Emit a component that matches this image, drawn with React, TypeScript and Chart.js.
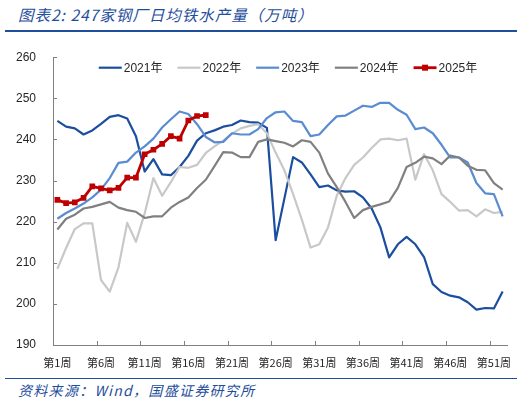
import React, { useEffect, useRef } from 'react';
import { Chart, registerables } from 'chart.js';

Chart.register(...registerables);

// ---- data ----
const weeks: string[] = [
  '第1周','第2周','第3周','第4周','第5周','第6周','第7周','第8周','第9周','第10周',
  '第11周','第12周','第13周','第14周','第15周','第16周','第17周','第18周','第19周','第20周',
  '第21周','第22周','第23周','第24周','第25周','第26周','第27周','第28周','第29周','第30周',
  '第31周','第32周','第33周','第34周','第35周','第36周','第37周','第38周','第39周','第40周',
  '第41周','第42周','第43周','第44周','第45周','第46周','第47周','第48周','第49周','第50周',
  '第51周','第52周',
];

const seriesNames = ['2021年', '2022年', '2023年', '2024年', '2025年'];

const y2021 = [
  244.5, 243.1, 242.7, 241.2, 242.2, 243.8, 245.5, 245.9, 245.1, 240.8,
  232.2, 235.2, 231.5, 231.3, 233.3, 236.0, 239.7, 241.5, 242.2, 243.1,
  243.5, 244.6, 244.2, 244.1, 242.8, 215.5, 225.6, 235.7, 234.4, 231.5,
  228.4, 228.8, 227.6, 227.3, 227.4, 225.9, 223.2, 218.6, 211.3, 214.5,
  216.3, 214.5, 211.4, 204.8, 202.9, 202.0, 201.6, 200.4, 198.6, 199.0,
  198.9, 203.0,
];
const y2022 = [
  208.5, 213.6, 218.2, 219.6, 219.6, 205.8, 203.0, 208.9, 219.7, 215.1,
  222.0, 230.6, 226.3, 229.6, 233.3, 233.1, 233.8, 236.7, 238.3, 239.7,
  241.4, 242.7, 243.3, 243.7, 241.5, 236.8, 232.5, 226.7, 220.5, 213.7,
  214.5, 218.6, 226.3, 230.6, 233.8, 235.6, 237.9, 240.0, 240.2, 239.8,
  240.2, 230.2, 236.4, 232.5, 226.7, 224.8, 222.7, 222.8, 221.3, 223.0,
  222.1, 222.4,
];
const y2023 = [
  220.7, 222.1, 223.2, 224.4, 225.9, 227.8, 230.6, 234.3, 234.6, 236.8,
  238.3, 240.2, 242.9, 244.9, 246.8, 246.2, 243.7, 240.6, 239.3, 239.4,
  241.5, 241.2, 241.2, 242.5, 245.2, 246.6, 246.8, 244.5, 244.2, 240.8,
  241.2, 243.5, 245.6, 245.8, 247.0, 248.2, 247.9, 248.9, 248.9, 247.2,
  246.0, 242.5, 242.9, 241.5, 238.7, 235.6, 235.6, 234.4, 229.4, 226.9,
  226.7, 221.3,
];
const y2024 = [
  218.1, 220.7, 221.7, 223.2, 223.6, 224.2, 224.8, 223.4, 222.8, 222.4,
  220.9, 221.3, 221.3, 223.4, 224.8, 225.9, 228.2, 230.2, 233.5, 236.9,
  236.8, 235.7, 235.7, 239.4, 240.0, 239.6, 239.2, 238.3, 239.8, 239.4,
  236.8, 231.7, 228.4, 224.8, 220.9, 222.8, 223.6, 224.2, 224.9, 228.2,
  233.3, 234.3, 235.8, 235.4, 234.0, 236.1, 235.6, 233.6, 232.6, 232.5,
  229.4, 227.8,
];
const y2025 = [
  225.3, 224.5, 224.7, 225.8, 228.6, 228.1, 227.6, 228.2, 230.7, 230.7,
  236.4, 237.5, 238.9, 240.8, 240.2, 244.6, 245.7, 245.9,
];

const yTicks = { min: 190, max: 260, step: 10 };
const xLabelEvery = 5;

// ---- styles ----
const BLUE = '#1F4E9C';
const AXIS = '#808080';
const TEXT = '#262626';
const colors = ['#1B4E9E', '#C8C8C8', '#5A8CD2', '#808080', '#C00000'];
const widths = [2.2, 2.2, 2.2, 2.2, 2.8];

const decorPlugin = {
  id: 'decor',
  afterDraw(chart: any) {
    const { ctx, chartArea, scales } = chart;
    const xs = scales.x;
    const ys = scales.y;
    ctx.save();
    // inward tick marks
    ctx.strokeStyle = AXIS;
    ctx.lineWidth = 1;
    ctx.beginPath();
    ys.ticks.forEach((_t: any, i: number) => {
      const py = Math.round(ys.getPixelForTick(i)) + 0.5;
      ctx.moveTo(chartArea.left, py);
      ctx.lineTo(chartArea.left + 4, py);
    });
    for (let i = xLabelEvery; i < weeks.length; i += xLabelEvery) {
      const px = Math.round(xs.getPixelForValue(i - 0.5)) + 0.5;
      ctx.moveTo(px, chartArea.bottom);
      ctx.lineTo(px, chartArea.bottom - 4);
    }
    ctx.stroke();

    // legend inside the plot area
    const ds = chart.data.datasets;
    ctx.font = '12px "Liberation Sans", "Noto Sans CJK SC", sans-serif';
    ctx.textBaseline = 'middle';
    ctx.textAlign = 'left';
    const sample = 23;
    const gap = 2;
    const spacing = 15;
    const itemW = ds.map((d: any) => sample + gap + ctx.measureText(d.label).width);
    const total = itemW.reduce((a: number, b: number) => a + b, 0) + spacing * (ds.length - 1);
    let cx = (chartArea.left + chartArea.right) / 2 + 8 - total / 2;
    const ly = chartArea.top + 10.5;
    ds.forEach((d: any, i: number) => {
      ctx.strokeStyle = d.borderColor;
      ctx.lineWidth = d.borderWidth;
      ctx.beginPath();
      ctx.moveTo(cx, ly);
      ctx.lineTo(cx + sample, ly);
      ctx.stroke();
      if (d.pointRadius > 0) {
        ctx.fillStyle = d.borderColor;
        ctx.fillRect(cx + sample / 2 - 3, ly - 3, 6, 6);
      }
      ctx.fillStyle = TEXT;
      ctx.fillText(d.label, cx + sample + gap, ly + 0.5);
      cx += itemW[i] + spacing;
    });
    ctx.restore();
  },
};

export default function App() {
  const ref = useRef<HTMLCanvasElement>(null);

  useEffect(() => {
    document.body.style.margin = '0';
    const all = [y2021, y2022, y2023, y2024, y2025];
    const chart = new Chart(ref.current as HTMLCanvasElement, {
      type: 'line',
      data: {
        labels: weeks,
        datasets: all.map((vals, i) => ({
          label: seriesNames[i],
          data: vals,
          borderColor: colors[i],
          backgroundColor: colors[i],
          borderWidth: widths[i],
          pointRadius: i === 4 ? 4 : 0,
          pointHoverRadius: i === 4 ? 4 : 0,
          pointStyle: 'rect',
          pointBorderWidth: 0,
          pointBackgroundColor: colors[i],
          tension: 0,
          borderJoinStyle: 'round' as const,
          fill: false,
          order: 5 - i,
        })),
      },
      options: {
        responsive: false,
        animation: false,
        events: [],
        layout: { padding: { left: 0, right: 25, top: 10, bottom: 0 } },
        plugins: {
          legend: { display: false },
          tooltip: { enabled: false },
          title: { display: false },
        },
        scales: {
          x: {
            type: 'category',
            offset: true,
            grid: { display: false, drawTicks: false },
            border: { display: true, color: AXIS, width: 1 },
            ticks: {
              autoSkip: false,
              maxRotation: 0,
              minRotation: 0,
              padding: 11,
              color: TEXT,
              font: { size: 11, family: '"Noto Sans CJK SC", sans-serif' },
              callback: (_v: any, i: number) => (i % xLabelEvery === 0 ? weeks[i] : ''),
            },
            afterFit: (s: any) => {
              s.height = 28;
            },
          },
          y: {
            min: yTicks.min,
            max: yTicks.max,
            grid: { display: false, drawTicks: false },
            border: { display: true, color: AXIS, width: 1 },
            ticks: {
              stepSize: yTicks.step,
              padding: 17,
              color: TEXT,
              font: { size: 12, family: '"Liberation Sans", Arial, sans-serif' },
            },
            afterFit: (s: any) => {
              s.width = 53;
            },
          },
        },
      },
      plugins: [decorPlugin],
    });
    return () => chart.destroy();
  }, []);

  return (
    <div style={{ position: 'relative', width: 532, height: 403, background: '#fff', overflow: 'hidden' }}>
      <div
        style={{
          position: 'absolute', left: 18, top: 4, whiteSpace: 'nowrap',
          font: 'italic 15.5px "Noto Sans CJK SC", sans-serif', lineHeight: '20px', color: BLUE,
          letterSpacing: '1px',
        }}
      >
        图表2: 247家钢厂日均铁水产量（万吨）
      </div>
      <div style={{ position: 'absolute', left: 5, top: 30, width: 512, height: 2, background: BLUE }} />
      <div style={{ position: 'absolute', left: 0, top: 33, width: 532, height: 340 }}>
        <canvas ref={ref} width={532} height={340} style={{ width: 532, height: 340, display: 'block' }} />
      </div>
      <div style={{ position: 'absolute', left: 5, top: 377.5, width: 512, height: 1.5, background: BLUE }} />
      <div
        style={{
          position: 'absolute', left: 18, top: 381, whiteSpace: 'nowrap',
          font: 'italic 14px "Noto Sans CJK SC", sans-serif', lineHeight: '18px', color: BLUE,
          letterSpacing: '1.3px',
        }}
      >
        资料来源：Wind，国盛证券研究所
      </div>
    </div>
  );
}
